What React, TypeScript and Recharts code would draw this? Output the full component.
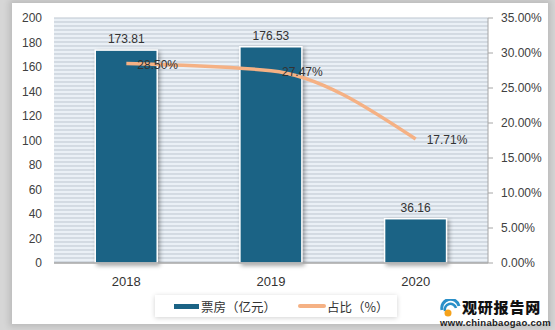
import { ComposedChart, Bar, Line, XAxis, YAxis, CartesianGrid, LabelList } from "recharts";

const years = ["2018", "2019", "2020"];
const boxOffice = [173.81, 176.53, 36.16];
const share = [28.5, 27.47, 17.71];
const leftTicks = [0, 20, 40, 60, 80, 100, 120, 140, 160, 180, 200];
const rightTicks = [0, 5, 10, 15, 20, 25, 30, 35];

const data = years.map((y, i) => ({ year: y, box: boxOffice[i], share: share[i] }));

const FONT = '"Liberation Sans", "Noto Sans CJK SC", sans-serif';
const BAR = "#1b6385";
const LINE = "#f5b184";

const BarShape = (p: any) => (
  <rect
    x={p.x}
    y={p.y}
    width={p.width}
    height={p.height}
    fill={BAR}
    stroke="#ffffff"
    strokeWidth={1.5}
    style={{ filter: "drop-shadow(2px 2px 2px rgba(0,0,0,0.35))" }}
  />
);

const ShareLabel = (p: any) => (
  <text x={p.x + 11} y={p.y} dy={5} fill="#333" fontSize={12} fontFamily={FONT}>
    {Number(p.value).toFixed(2)}%
  </text>
);

function App() {
  return (
    <div style={{ position: "fixed", left: 0, top: 0, width: 555, height: 330, background: "#d6d6d6", fontFamily: FONT }}>
      <div
        style={{
          position: "absolute",
          left: 12,
          top: 3,
          width: 536,
          height: 321,
          background: "#fff",
          boxShadow: "0 0 6px 3px rgba(0,0,0,0.12)",
        }}
      />
      <div style={{ position: "absolute", left: 0, top: 0 }}>
        <ComposedChart
          width={555}
          height={330}
          data={data}
          margin={{ top: 18, right: 0, bottom: 37, left: 0 }}
          barCategoryGap="28.5%"
        >
          <CartesianGrid
            vertical={false}
            fill="#eaf0f6"
            stroke="#bcc5cf"
            strokeWidth={1}
            horizontalCoordinatesGenerator={({ offset }: any) => {
              const out: number[] = [];
              for (let y = offset.top; y <= offset.top + offset.height; y += 4) out.push(y);
              return out;
            }}
          />
          <XAxis
            dataKey="year"
            height={30}
            tickLine={false}
            axisLine={{ stroke: "#a6a6a6", strokeWidth: 1.5 }}
            tick={{ fill: "#333", fontSize: 13, fontFamily: FONT }}
            tickMargin={8}
          />
          <YAxis
            yAxisId="left"
            width={54}
            domain={[0, 200]}
            ticks={leftTicks}
            tickLine={false}
            axisLine={false}
            tickMargin={6}
            tick={{ fill: "#404040", fontSize: 12, fontFamily: FONT }}
          />
          <YAxis
            yAxisId="right"
            orientation="right"
            width={67}
            domain={[0, 35]}
            ticks={rightTicks}
            tickSize={5}
            tickMargin={8}
            tickLine={{ stroke: "#a6a6a6" }}
            axisLine={{ stroke: "#a6a6a6" }}
            tickFormatter={(v: number) => v.toFixed(2) + "%"}
            tick={{ fill: "#404040", fontSize: 12, fontFamily: FONT }}
          />
          <Bar yAxisId="left" dataKey="box" shape={BarShape} isAnimationActive={false}>
            <LabelList
              dataKey="box"
              position="top"
              offset={7}
              fill="#333"
              fontSize={12}
              fontFamily={FONT}
              formatter={(v: any) => Number(v).toFixed(2)}
            />
          </Bar>
          <Line
            yAxisId="right"
            dataKey="share"
            type="monotone"
            stroke={LINE}
            strokeWidth={3.5}
            dot={false}
            activeDot={false}
            isAnimationActive={false}
          >
            <LabelList dataKey="share" content={ShareLabel} />
          </Line>
        </ComposedChart>
      </div>
      <div
        style={{
          position: "absolute",
          left: 155,
          top: 295,
          width: 242,
          height: 22,
          background: "#fff",
          boxShadow: "0 1px 5px rgba(0,0,0,0.18)",
          display: "flex",
          alignItems: "center",
          fontSize: 12.5,
          color: "#333",
          fontFamily: '"Noto Sans CJK SC", sans-serif',
        }}
      >
        <span style={{ display: "inline-block", width: 25, height: 5, background: BAR, marginLeft: 19 }} />
        <span style={{ marginLeft: 2 }}>票房（亿元）</span>
        <span style={{ display: "inline-block", width: 28, height: 4, background: LINE, marginLeft: 22, borderRadius: 2 }} />
        <span style={{ marginLeft: 1 }}>占比（%）</span>
      </div>
      <svg style={{ position: "absolute", left: 440, top: 299 }} width={22} height={18}>
        <path d="M2 11 A8.5 8.5 0 0 1 19 7" stroke="#2a8fc8" strokeWidth={3} fill="none" />
        <path d="M5 12 A5.5 5.5 0 0 1 16 9" stroke="#2a8fc8" strokeWidth={2.5} fill="none" />
        <circle cx={8} cy={14} r={3.5} fill="#f5a21b" />
      </svg>
      <div
        style={{
          position: "absolute",
          left: 462,
          top: 299,
          fontSize: 15,
          fontWeight: 900,
          color: "#111",
          fontFamily: '"Noto Sans CJK SC", sans-serif',
          lineHeight: "16px",
          letterSpacing: 0.8,
        }}
      >
        观研报告网
      </div>
      <div
        style={{
          position: "absolute",
          left: 440,
          top: 318,
          fontSize: 9.5,
          fontWeight: 700,
          color: "#222",
          fontFamily: '"Liberation Sans", sans-serif',
          lineHeight: "10px",
          letterSpacing: 0.3,
        }}
      >
        www.chinabaogao.com
      </div>
    </div>
  );
}

export default App;
